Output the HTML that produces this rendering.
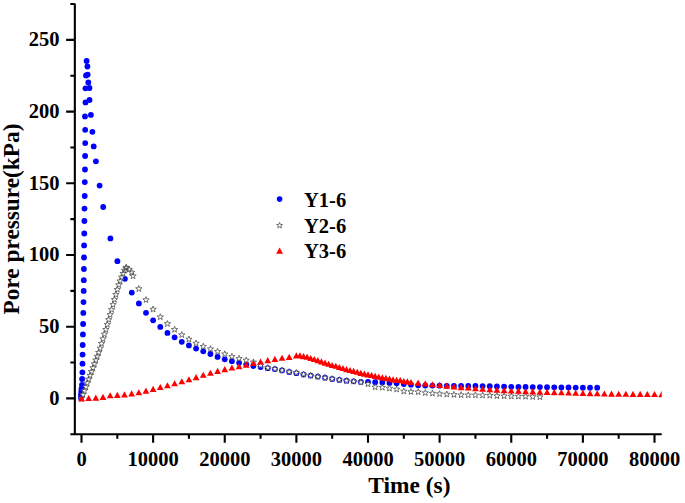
<!DOCTYPE html>
<html><head><meta charset="utf-8"><title>Pore pressure chart</title>
<style>html,body{margin:0;padding:0;background:#fff;}body{width:685px;height:503px;overflow:hidden;font-family:"Liberation Serif",serif;}svg{display:block;}</style>
</head><body>
<svg width="685" height="503" viewBox="0 0 685 503"><clipPath id="c"><rect x="74.34" y="0" width="587.36" height="434.25"/></clipPath>
<g clip-path="url(#c)">
<g fill="#0000ff"><circle cx="80.90" cy="397.70" r="2.9"/><circle cx="81.00" cy="394.60" r="2.9"/><circle cx="81.30" cy="391.60" r="2.9"/><circle cx="81.50" cy="388.90" r="2.9"/><circle cx="82.00" cy="385.00" r="2.9"/><circle cx="82.10" cy="379.00" r="2.9"/><circle cx="82.40" cy="372.30" r="2.9"/><circle cx="82.50" cy="363.70" r="2.9"/><circle cx="82.60" cy="354.60" r="2.9"/><circle cx="82.70" cy="345.00" r="2.9"/><circle cx="82.90" cy="334.40" r="2.9"/><circle cx="83.10" cy="324.00" r="2.9"/><circle cx="83.30" cy="312.90" r="2.9"/><circle cx="83.50" cy="302.10" r="2.9"/><circle cx="83.70" cy="290.90" r="2.9"/><circle cx="83.80" cy="280.20" r="2.9"/><circle cx="83.90" cy="269.00" r="2.9"/><circle cx="84.00" cy="257.50" r="2.9"/><circle cx="84.10" cy="245.40" r="2.9"/><circle cx="84.30" cy="233.50" r="2.9"/><circle cx="84.40" cy="221.00" r="2.9"/><circle cx="84.50" cy="208.60" r="2.9"/><circle cx="84.70" cy="196.00" r="2.9"/><circle cx="84.80" cy="182.10" r="2.9"/><circle cx="85.00" cy="169.50" r="2.9"/><circle cx="85.10" cy="156.00" r="2.9"/><circle cx="85.20" cy="143.10" r="2.9"/><circle cx="85.20" cy="129.80" r="2.9"/><circle cx="85.00" cy="116.40" r="2.9"/><circle cx="85.50" cy="102.40" r="2.9"/><circle cx="85.50" cy="88.30" r="2.9"/><circle cx="86.00" cy="75.50" r="2.9"/><circle cx="86.60" cy="61.00" r="2.9"/><circle cx="87.40" cy="66.50" r="2.9"/><circle cx="87.70" cy="74.60" r="2.9"/><circle cx="88.30" cy="82.40" r="2.9"/><circle cx="89.50" cy="88.00" r="2.9"/><circle cx="89.50" cy="100.00" r="2.9"/><circle cx="90.90" cy="114.90" r="2.9"/><circle cx="92.40" cy="131.80" r="2.9"/><circle cx="93.70" cy="146.40" r="2.9"/><circle cx="95.90" cy="161.30" r="2.9"/><circle cx="99.60" cy="185.60" r="2.9"/><circle cx="103.20" cy="207.00" r="2.9"/><circle cx="110.40" cy="238.40" r="2.9"/><circle cx="117.40" cy="261.20" r="2.9"/><circle cx="124.90" cy="278.80" r="2.9"/><circle cx="131.80" cy="292.60" r="2.9"/><circle cx="138.90" cy="303.40" r="2.9"/><circle cx="146.00" cy="312.80" r="2.9"/><circle cx="153.12" cy="320.30" r="2.9"/><circle cx="160.29" cy="326.90" r="2.9"/><circle cx="167.45" cy="332.90" r="2.9"/><circle cx="174.61" cy="337.30" r="2.9"/><circle cx="181.77" cy="341.80" r="2.9"/><circle cx="188.94" cy="345.40" r="2.9"/><circle cx="196.10" cy="348.60" r="2.9"/><circle cx="203.26" cy="351.30" r="2.9"/><circle cx="210.42" cy="354.00" r="2.9"/><circle cx="217.59" cy="356.90" r="2.9"/><circle cx="224.75" cy="359.30" r="2.9"/><circle cx="231.91" cy="361.20" r="2.9"/><circle cx="239.07" cy="362.80" r="2.9"/><circle cx="246.24" cy="364.30" r="2.9"/><circle cx="253.40" cy="366.00" r="2.9"/><circle cx="260.56" cy="367.10" r="2.9"/><circle cx="267.73" cy="368.20" r="2.9"/><circle cx="274.89" cy="369.10" r="2.9"/><circle cx="282.05" cy="370.40" r="2.9"/><circle cx="289.21" cy="372.00" r="2.9"/><circle cx="296.38" cy="373.20" r="2.9"/><circle cx="303.54" cy="374.60" r="2.9"/><circle cx="310.70" cy="375.60" r="2.9"/><circle cx="317.86" cy="376.60" r="2.9"/><circle cx="325.02" cy="377.70" r="2.9"/><circle cx="332.19" cy="378.90" r="2.9"/><circle cx="339.35" cy="379.90" r="2.9"/><circle cx="346.51" cy="380.70" r="2.9"/><circle cx="353.68" cy="381.30" r="2.9"/><circle cx="360.84" cy="381.80" r="2.9"/><circle cx="368.00" cy="382.00" r="2.9"/><circle cx="375.16" cy="382.20" r="2.9"/><circle cx="382.32" cy="382.50" r="2.9"/><circle cx="389.49" cy="383.00" r="2.9"/><circle cx="396.65" cy="383.20" r="2.9"/><circle cx="403.81" cy="384.10" r="2.9"/><circle cx="410.97" cy="384.70" r="2.9"/><circle cx="418.14" cy="385.30" r="2.9"/><circle cx="425.30" cy="385.50" r="2.9"/><circle cx="432.46" cy="385.60" r="2.9"/><circle cx="439.62" cy="385.70" r="2.9"/><circle cx="446.79" cy="385.80" r="2.9"/><circle cx="453.95" cy="385.90" r="2.9"/><circle cx="461.11" cy="385.90" r="2.9"/><circle cx="468.27" cy="385.90" r="2.9"/><circle cx="475.44" cy="386.00" r="2.9"/><circle cx="482.60" cy="386.10" r="2.9"/><circle cx="489.76" cy="386.20" r="2.9"/><circle cx="496.92" cy="386.40" r="2.9"/><circle cx="504.09" cy="386.60" r="2.9"/><circle cx="511.25" cy="386.80" r="2.9"/><circle cx="518.41" cy="386.90" r="2.9"/><circle cx="525.58" cy="387.00" r="2.9"/><circle cx="532.74" cy="387.10" r="2.9"/><circle cx="539.90" cy="387.10" r="2.9"/><circle cx="547.06" cy="387.20" r="2.9"/><circle cx="554.22" cy="387.30" r="2.9"/><circle cx="561.39" cy="387.40" r="2.9"/><circle cx="568.55" cy="387.50" r="2.9"/><circle cx="575.71" cy="387.60" r="2.9"/><circle cx="582.88" cy="387.70" r="2.9"/><circle cx="590.04" cy="387.70" r="2.9"/><circle cx="597.20" cy="387.70" r="2.9"/></g>
<path fill="#fff" stroke="#505050" stroke-width="0.8" d="M81.50,395.10 L82.29,397.31 L84.64,397.38 L82.78,398.82 L83.44,401.07 L81.50,399.75 L79.56,401.07 L80.22,398.82 L78.36,397.38 L80.71,397.31ZM82.93,391.28 L83.73,393.49 L86.07,393.56 L84.22,395.00 L84.87,397.25 L82.93,395.93 L80.99,397.25 L81.65,395.00 L79.79,393.56 L82.14,393.49ZM84.36,387.46 L85.16,389.67 L87.50,389.74 L85.65,391.18 L86.30,393.43 L84.36,392.11 L82.43,393.43 L83.08,391.18 L81.23,389.74 L83.57,389.67ZM85.80,383.64 L86.59,385.85 L88.94,385.92 L87.08,387.36 L87.74,389.61 L85.80,388.29 L83.86,389.61 L84.51,387.36 L82.66,385.92 L85.00,385.85ZM87.23,379.82 L88.02,382.03 L90.37,382.10 L88.51,383.54 L89.17,385.79 L87.23,384.47 L85.29,385.79 L85.95,383.54 L84.09,382.10 L86.44,382.03ZM88.66,376.00 L89.46,378.21 L91.80,378.28 L89.95,379.72 L90.60,381.97 L88.66,380.65 L86.72,381.97 L87.38,379.72 L85.52,378.28 L87.87,378.21ZM90.09,372.18 L90.89,374.39 L93.23,374.46 L91.38,375.90 L92.03,378.15 L90.09,376.83 L88.16,378.15 L88.81,375.90 L86.96,374.46 L89.30,374.39ZM91.53,368.36 L92.32,370.57 L94.67,370.64 L92.81,372.08 L93.47,374.33 L91.53,373.01 L89.59,374.33 L90.24,372.08 L88.39,370.64 L90.73,370.57ZM92.96,364.54 L93.75,366.75 L96.10,366.82 L94.24,368.26 L94.90,370.51 L92.96,369.19 L91.02,370.51 L91.68,368.26 L89.82,366.82 L92.17,366.75ZM94.39,360.72 L95.19,362.93 L97.53,363.00 L95.68,364.44 L96.33,366.69 L94.39,365.37 L92.45,366.69 L93.11,364.44 L91.25,363.00 L93.60,362.93ZM95.83,356.90 L96.62,359.11 L98.96,359.18 L97.11,360.62 L97.76,362.87 L95.83,361.55 L93.89,362.87 L94.54,360.62 L92.69,359.18 L95.03,359.11ZM97.26,353.08 L98.05,355.29 L100.40,355.36 L98.54,356.80 L99.20,359.05 L97.26,357.73 L95.32,359.05 L95.97,356.80 L94.12,355.36 L96.46,355.29ZM98.69,349.26 L99.48,351.47 L101.83,351.54 L99.97,352.98 L100.63,355.23 L98.69,353.91 L96.75,355.23 L97.41,352.98 L95.55,351.54 L97.90,351.47ZM100.12,345.01 L100.92,347.21 L103.26,347.29 L101.41,348.72 L102.06,350.98 L100.12,349.66 L98.18,350.98 L98.84,348.72 L96.98,347.29 L99.33,347.21ZM101.56,340.32 L102.35,342.53 L104.69,342.60 L102.84,344.04 L103.49,346.29 L101.56,344.97 L99.62,346.29 L100.27,344.04 L98.42,342.60 L100.76,342.53ZM102.99,335.64 L103.78,337.84 L106.13,337.92 L104.27,339.35 L104.93,341.61 L102.99,340.29 L101.05,341.61 L101.70,339.35 L99.85,337.92 L102.19,337.84ZM104.42,330.95 L105.21,333.16 L107.56,333.23 L105.70,334.67 L106.36,336.92 L104.42,335.60 L102.48,336.92 L103.14,334.67 L101.28,333.23 L103.63,333.16ZM105.85,326.27 L106.65,328.48 L108.99,328.55 L107.14,329.99 L107.79,332.24 L105.85,330.92 L103.91,332.24 L104.57,329.99 L102.71,328.55 L105.06,328.48ZM107.28,321.34 L108.08,323.55 L110.42,323.62 L108.57,325.06 L109.22,327.31 L107.28,325.99 L105.35,327.31 L106.00,325.06 L104.15,323.62 L106.49,323.55ZM108.72,316.42 L109.51,318.63 L111.86,318.70 L110.00,320.14 L110.66,322.39 L108.72,321.07 L106.78,322.39 L107.43,320.14 L105.58,318.70 L107.92,318.63ZM110.15,311.50 L110.94,313.71 L113.29,313.78 L111.43,315.21 L112.09,317.47 L110.15,316.15 L108.21,317.47 L108.87,315.21 L107.01,313.78 L109.36,313.71ZM111.58,306.44 L112.38,308.65 L114.72,308.72 L112.87,310.16 L113.52,312.41 L111.58,311.09 L109.64,312.41 L110.30,310.16 L108.44,308.72 L110.79,308.65ZM113.02,301.38 L113.81,303.59 L116.15,303.66 L114.30,305.10 L114.95,307.35 L113.02,306.03 L111.08,307.35 L111.73,305.10 L109.88,303.66 L112.22,303.59ZM114.45,296.33 L115.24,298.54 L117.59,298.61 L115.73,300.05 L116.39,302.30 L114.45,300.98 L112.51,302.30 L113.16,300.05 L111.31,298.61 L113.65,298.54ZM115.88,291.31 L116.67,293.52 L119.02,293.59 L117.16,295.03 L117.82,297.28 L115.88,295.96 L113.94,297.28 L114.60,295.03 L112.74,293.59 L115.09,293.52ZM117.31,286.30 L118.11,288.50 L120.45,288.58 L118.60,290.01 L119.25,292.27 L117.31,290.95 L115.37,292.27 L116.03,290.01 L114.17,288.58 L116.52,288.50ZM118.75,281.57 L119.54,283.78 L121.88,283.86 L120.03,285.29 L120.68,287.54 L118.75,286.23 L116.81,287.54 L117.46,285.29 L115.61,283.86 L117.95,283.78ZM120.18,277.75 L120.97,279.96 L123.32,280.03 L121.46,281.47 L122.12,283.72 L120.18,282.40 L118.24,283.72 L118.89,281.47 L117.04,280.03 L119.38,279.96ZM121.61,273.93 L122.40,276.13 L124.75,276.21 L122.89,277.64 L123.55,279.90 L121.61,278.58 L119.67,279.90 L120.33,277.64 L118.47,276.21 L120.82,276.13ZM123.04,270.26 L123.84,272.46 L126.18,272.54 L124.33,273.97 L124.98,276.23 L123.04,274.91 L121.10,276.23 L121.76,273.97 L119.90,272.54 L122.25,272.46ZM124.47,267.04 L125.27,269.25 L127.61,269.32 L125.76,270.76 L126.41,273.01 L124.47,271.69 L122.54,273.01 L123.19,270.76 L121.34,269.32 L123.68,269.25ZM125.91,264.75 L126.70,266.96 L129.05,267.03 L127.19,268.47 L127.85,270.72 L125.91,269.40 L123.97,270.72 L124.62,268.47 L122.77,267.03 L125.11,266.96ZM126.41,264.18 L127.20,266.38 L129.55,266.46 L127.69,267.89 L128.35,270.15 L126.41,268.83 L124.47,270.15 L125.12,267.89 L123.27,266.46 L125.62,266.38ZM129.13,266.10 L129.92,268.31 L132.27,268.38 L130.41,269.82 L131.07,272.07 L129.13,270.75 L127.19,272.07 L127.85,269.82 L125.99,268.38 L128.34,268.31ZM131.64,269.10 L132.43,271.31 L134.78,271.38 L132.92,272.82 L133.58,275.07 L131.64,273.75 L129.70,275.07 L130.35,272.82 L128.50,271.38 L130.84,271.31ZM133.07,272.70 L133.86,274.91 L136.21,274.98 L134.35,276.42 L135.01,278.67 L133.07,277.35 L131.13,278.67 L131.79,276.42 L129.93,274.98 L132.28,274.91ZM138.80,285.50 L139.59,287.71 L141.94,287.78 L140.08,289.22 L140.74,291.47 L138.80,290.15 L136.86,291.47 L137.52,289.22 L135.66,287.78 L138.01,287.71ZM145.96,296.60 L146.76,298.81 L149.10,298.88 L147.25,300.32 L147.90,302.57 L145.96,301.25 L144.02,302.57 L144.68,300.32 L142.82,298.88 L145.17,298.81ZM153.12,306.00 L153.92,308.21 L156.26,308.28 L154.41,309.72 L155.06,311.97 L153.12,310.65 L151.19,311.97 L151.84,309.72 L149.99,308.28 L152.33,308.21ZM160.29,313.70 L161.08,315.91 L163.43,315.98 L161.57,317.42 L162.23,319.67 L160.29,318.35 L158.35,319.67 L159.00,317.42 L157.15,315.98 L159.49,315.91ZM167.45,320.50 L168.24,322.71 L170.59,322.78 L168.73,324.22 L169.39,326.47 L167.45,325.15 L165.51,326.47 L166.17,324.22 L164.31,322.78 L166.66,322.71ZM174.61,326.30 L175.41,328.51 L177.75,328.58 L175.90,330.02 L176.55,332.27 L174.61,330.95 L172.67,332.27 L173.33,330.02 L171.47,328.58 L173.82,328.51ZM181.77,331.60 L182.57,333.81 L184.91,333.88 L183.06,335.32 L183.71,337.57 L181.77,336.25 L179.84,337.57 L180.49,335.32 L178.64,333.88 L180.98,333.81ZM188.94,336.00 L189.73,338.21 L192.08,338.28 L190.22,339.72 L190.88,341.97 L188.94,340.65 L187.00,341.97 L187.65,339.72 L185.80,338.28 L188.14,338.21ZM196.10,340.00 L196.89,342.21 L199.24,342.28 L197.38,343.72 L198.04,345.97 L196.10,344.65 L194.16,345.97 L194.82,343.72 L192.96,342.28 L195.31,342.21ZM203.26,343.20 L204.06,345.41 L206.40,345.48 L204.55,346.92 L205.20,349.17 L203.26,347.85 L201.32,349.17 L201.98,346.92 L200.12,345.48 L202.47,345.41ZM210.42,345.70 L211.22,347.91 L213.56,347.98 L211.71,349.42 L212.36,351.67 L210.42,350.35 L208.49,351.67 L209.14,349.42 L207.29,347.98 L209.63,347.91ZM217.59,348.20 L218.38,350.41 L220.73,350.48 L218.87,351.92 L219.53,354.17 L217.59,352.85 L215.65,354.17 L216.30,351.92 L214.45,350.48 L216.79,350.41ZM224.75,350.80 L225.54,353.01 L227.89,353.08 L226.03,354.52 L226.69,356.77 L224.75,355.45 L222.81,356.77 L223.47,354.52 L221.61,353.08 L223.96,353.01ZM231.91,353.30 L232.71,355.51 L235.05,355.58 L233.20,357.02 L233.85,359.27 L231.91,357.95 L229.97,359.27 L230.63,357.02 L228.77,355.58 L231.12,355.51ZM239.07,355.30 L239.87,357.51 L242.21,357.58 L240.36,359.02 L241.01,361.27 L239.07,359.95 L237.14,361.27 L237.79,359.02 L235.94,357.58 L238.28,357.51ZM246.24,357.00 L247.03,359.21 L249.38,359.28 L247.52,360.72 L248.18,362.97 L246.24,361.65 L244.30,362.97 L244.95,360.72 L243.10,359.28 L245.44,359.21ZM253.40,358.90 L254.19,361.11 L256.54,361.18 L254.68,362.62 L255.34,364.87 L253.40,363.55 L251.46,364.87 L252.12,362.62 L250.26,361.18 L252.61,361.11ZM260.56,362.20 L261.36,364.41 L263.70,364.48 L261.85,365.92 L262.50,368.17 L260.56,366.85 L258.62,368.17 L259.28,365.92 L257.42,364.48 L259.77,364.41ZM267.73,364.60 L268.52,366.81 L270.86,366.88 L269.01,368.32 L269.66,370.57 L267.73,369.25 L265.79,370.57 L266.44,368.32 L264.59,366.88 L266.93,366.81ZM274.89,365.70 L275.68,367.91 L278.03,367.98 L276.17,369.42 L276.83,371.67 L274.89,370.35 L272.95,371.67 L273.60,369.42 L271.75,367.98 L274.09,367.91ZM282.05,367.00 L282.84,369.21 L285.19,369.28 L283.33,370.72 L283.99,372.97 L282.05,371.65 L280.11,372.97 L280.77,370.72 L278.91,369.28 L281.26,369.21ZM289.21,368.60 L290.01,370.81 L292.35,370.88 L290.50,372.32 L291.15,374.57 L289.21,373.25 L287.27,374.57 L287.93,372.32 L286.07,370.88 L288.42,370.81ZM296.38,369.50 L297.17,371.71 L299.51,371.78 L297.66,373.22 L298.31,375.47 L296.38,374.15 L294.44,375.47 L295.09,373.22 L293.24,371.78 L295.58,371.71ZM303.54,371.00 L304.33,373.21 L306.68,373.28 L304.82,374.72 L305.48,376.97 L303.54,375.65 L301.60,376.97 L302.25,374.72 L300.40,373.28 L302.74,373.21ZM310.70,372.30 L311.49,374.51 L313.84,374.58 L311.98,376.02 L312.64,378.27 L310.70,376.95 L308.76,378.27 L309.42,376.02 L307.56,374.58 L309.91,374.51ZM317.86,373.40 L318.66,375.61 L321.00,375.68 L319.15,377.12 L319.80,379.37 L317.86,378.05 L315.92,379.37 L316.58,377.12 L314.72,375.68 L317.07,375.61ZM325.02,374.50 L325.82,376.71 L328.16,376.78 L326.31,378.22 L326.96,380.47 L325.02,379.15 L323.09,380.47 L323.74,378.22 L321.89,376.78 L324.23,376.71ZM332.19,375.60 L332.98,377.81 L335.33,377.88 L333.47,379.32 L334.13,381.57 L332.19,380.25 L330.25,381.57 L330.90,379.32 L329.05,377.88 L331.39,377.81ZM339.35,376.60 L340.14,378.81 L342.49,378.88 L340.63,380.32 L341.29,382.57 L339.35,381.25 L337.41,382.57 L338.07,380.32 L336.21,378.88 L338.56,378.81ZM346.51,377.60 L347.31,379.81 L349.65,379.88 L347.80,381.32 L348.45,383.57 L346.51,382.25 L344.57,383.57 L345.23,381.32 L343.37,379.88 L345.72,379.81ZM353.68,378.10 L354.47,380.31 L356.81,380.38 L354.96,381.82 L355.61,384.07 L353.68,382.75 L351.74,384.07 L352.39,381.82 L350.54,380.38 L352.88,380.31ZM360.84,379.00 L361.63,381.21 L363.98,381.28 L362.12,382.72 L362.78,384.97 L360.84,383.65 L358.90,384.97 L359.55,382.72 L357.70,381.28 L360.04,381.21ZM368.00,380.70 L368.79,382.91 L371.14,382.98 L369.28,384.42 L369.94,386.67 L368.00,385.35 L366.06,386.67 L366.72,384.42 L364.86,382.98 L367.21,382.91ZM375.16,383.80 L375.96,386.01 L378.30,386.08 L376.45,387.52 L377.10,389.77 L375.16,388.45 L373.22,389.77 L373.88,387.52 L372.02,386.08 L374.37,386.01ZM382.32,384.20 L383.12,386.41 L385.46,386.48 L383.61,387.92 L384.26,390.17 L382.32,388.85 L380.39,390.17 L381.04,387.92 L379.19,386.48 L381.53,386.41ZM389.49,385.10 L390.28,387.31 L392.63,387.38 L390.77,388.82 L391.43,391.07 L389.49,389.75 L387.55,391.07 L388.20,388.82 L386.35,387.38 L388.69,387.31ZM396.65,386.00 L397.44,388.21 L399.79,388.28 L397.93,389.72 L398.59,391.97 L396.65,390.65 L394.71,391.97 L395.37,389.72 L393.51,388.28 L395.86,388.21ZM403.81,388.00 L404.61,390.21 L406.95,390.28 L405.10,391.72 L405.75,393.97 L403.81,392.65 L401.87,393.97 L402.53,391.72 L400.67,390.28 L403.02,390.21ZM410.97,388.50 L411.77,390.71 L414.11,390.78 L412.26,392.22 L412.91,394.47 L410.97,393.15 L409.04,394.47 L409.69,392.22 L407.84,390.78 L410.18,390.71ZM418.14,388.70 L418.93,390.91 L421.28,390.98 L419.42,392.42 L420.08,394.67 L418.14,393.35 L416.20,394.67 L416.85,392.42 L415.00,390.98 L417.34,390.91ZM425.30,389.60 L426.09,391.81 L428.44,391.88 L426.58,393.32 L427.24,395.57 L425.30,394.25 L423.36,395.57 L424.02,393.32 L422.16,391.88 L424.51,391.81ZM432.46,390.10 L433.26,392.31 L435.60,392.38 L433.75,393.82 L434.40,396.07 L432.46,394.75 L430.52,396.07 L431.18,393.82 L429.32,392.38 L431.67,392.31ZM439.62,390.60 L440.42,392.81 L442.76,392.88 L440.91,394.32 L441.56,396.57 L439.62,395.25 L437.69,396.57 L438.34,394.32 L436.49,392.88 L438.83,392.81ZM446.79,391.00 L447.58,393.21 L449.93,393.28 L448.07,394.72 L448.73,396.97 L446.79,395.65 L444.85,396.97 L445.50,394.72 L443.65,393.28 L445.99,393.21ZM453.95,391.40 L454.74,393.61 L457.09,393.68 L455.23,395.12 L455.89,397.37 L453.95,396.05 L452.01,397.37 L452.67,395.12 L450.81,393.68 L453.16,393.61ZM461.11,391.70 L461.91,393.91 L464.25,393.98 L462.40,395.42 L463.05,397.67 L461.11,396.35 L459.17,397.67 L459.83,395.42 L457.97,393.98 L460.32,393.91ZM468.27,391.80 L469.07,394.01 L471.41,394.08 L469.56,395.52 L470.21,397.77 L468.27,396.45 L466.34,397.77 L466.99,395.52 L465.14,394.08 L467.48,394.01ZM475.44,391.90 L476.23,394.11 L478.58,394.18 L476.72,395.62 L477.38,397.87 L475.44,396.55 L473.50,397.87 L474.15,395.62 L472.30,394.18 L474.64,394.11ZM482.60,392.00 L483.39,394.21 L485.74,394.28 L483.88,395.72 L484.54,397.97 L482.60,396.65 L480.66,397.97 L481.32,395.72 L479.46,394.28 L481.81,394.21ZM489.76,392.20 L490.56,394.41 L492.90,394.48 L491.05,395.92 L491.70,398.17 L489.76,396.85 L487.82,398.17 L488.48,395.92 L486.62,394.48 L488.97,394.41ZM496.92,392.60 L497.72,394.81 L500.06,394.88 L498.21,396.32 L498.86,398.57 L496.92,397.25 L494.99,398.57 L495.64,396.32 L493.79,394.88 L496.13,394.81ZM504.09,392.80 L504.88,395.01 L507.23,395.08 L505.37,396.52 L506.03,398.77 L504.09,397.45 L502.15,398.77 L502.80,396.52 L500.95,395.08 L503.29,395.01ZM511.25,393.00 L512.04,395.21 L514.39,395.28 L512.53,396.72 L513.19,398.97 L511.25,397.65 L509.31,398.97 L509.97,396.72 L508.11,395.28 L510.46,395.21ZM518.41,393.10 L519.21,395.31 L521.55,395.38 L519.70,396.82 L520.35,399.07 L518.41,397.75 L516.47,399.07 L517.13,396.82 L515.27,395.38 L517.62,395.31ZM525.58,393.20 L526.37,395.41 L528.71,395.48 L526.86,396.92 L527.51,399.17 L525.58,397.85 L523.64,399.17 L524.29,396.92 L522.44,395.48 L524.78,395.41ZM532.74,393.50 L533.53,395.71 L535.88,395.78 L534.02,397.22 L534.68,399.47 L532.74,398.15 L530.80,399.47 L531.45,397.22 L529.60,395.78 L531.94,395.71ZM539.90,393.70 L540.69,395.91 L543.04,395.98 L541.18,397.42 L541.84,399.67 L539.90,398.35 L537.96,399.67 L538.62,397.42 L536.76,395.98 L539.11,395.91Z"/>
<path fill="#ff0000" d="M81.50,395.35 L84.90,401.45 L78.10,401.45ZM88.66,394.95 L92.06,401.05 L85.26,401.05ZM95.83,394.55 L99.23,400.65 L92.42,400.65ZM102.99,393.85 L106.39,399.95 L99.59,399.95ZM110.15,392.25 L113.55,398.35 L106.75,398.35ZM117.31,391.85 L120.71,397.95 L113.91,397.95ZM124.47,391.35 L127.88,397.45 L121.07,397.45ZM131.64,390.35 L135.04,396.45 L128.24,396.45ZM138.80,389.15 L142.20,395.25 L135.40,395.25ZM145.96,387.55 L149.36,393.65 L142.56,393.65ZM153.12,385.85 L156.53,391.95 L149.72,391.95ZM160.29,383.95 L163.69,390.05 L156.89,390.05ZM167.45,382.15 L170.85,388.25 L164.05,388.25ZM174.61,380.25 L178.01,386.35 L171.21,386.35ZM181.77,378.15 L185.17,384.25 L178.37,384.25ZM188.94,376.15 L192.34,382.25 L185.54,382.25ZM196.10,374.05 L199.50,380.15 L192.70,380.15ZM203.26,371.75 L206.66,377.85 L199.86,377.85ZM210.42,369.75 L213.82,375.85 L207.02,375.85ZM217.59,367.85 L220.99,373.95 L214.19,373.95ZM224.75,366.05 L228.15,372.15 L221.35,372.15ZM231.91,364.45 L235.31,370.55 L228.51,370.55ZM239.07,363.05 L242.47,369.15 L235.67,369.15ZM246.24,361.55 L249.64,367.65 L242.84,367.65ZM253.40,359.95 L256.80,366.05 L250.00,366.05ZM260.56,358.45 L263.96,364.55 L257.16,364.55ZM267.73,357.05 L271.12,363.15 L264.33,363.15ZM274.89,355.85 L278.29,361.95 L271.49,361.95ZM282.05,354.75 L285.45,360.85 L278.65,360.85ZM289.21,353.85 L292.61,359.95 L285.81,359.95ZM296.38,352.30 L299.77,358.40 L292.98,358.40ZM299.96,352.30 L303.36,358.40 L296.56,358.40ZM303.54,353.10 L306.94,359.20 L300.14,359.20ZM307.12,353.70 L310.52,359.80 L303.72,359.80ZM310.70,354.90 L314.10,361.00 L307.30,361.00ZM314.28,356.00 L317.68,362.10 L310.88,362.10ZM317.86,357.10 L321.26,363.20 L314.46,363.20ZM321.44,358.30 L324.84,364.40 L318.04,364.40ZM325.02,359.60 L328.42,365.70 L321.62,365.70ZM328.61,360.70 L332.01,366.80 L325.21,366.80ZM332.19,361.90 L335.59,368.00 L328.79,368.00ZM335.77,362.70 L339.17,368.80 L332.37,368.80ZM339.35,364.00 L342.75,370.10 L335.95,370.10ZM342.93,365.00 L346.33,371.10 L339.53,371.10ZM346.51,366.10 L349.91,372.20 L343.11,372.20ZM350.09,367.00 L353.49,373.10 L346.69,373.10ZM353.68,367.80 L357.07,373.90 L350.28,373.90ZM357.26,368.70 L360.66,374.80 L353.86,374.80ZM360.84,369.80 L364.24,375.90 L357.44,375.90ZM364.42,370.60 L367.82,376.70 L361.02,376.70ZM368.00,371.30 L371.40,377.40 L364.60,377.40ZM371.58,371.90 L374.98,378.00 L368.18,378.00ZM375.16,372.80 L378.56,378.90 L371.76,378.90ZM378.74,373.60 L382.14,379.70 L375.34,379.70ZM382.32,374.30 L385.72,380.40 L378.93,380.40ZM385.91,374.80 L389.31,380.90 L382.51,380.90ZM389.49,375.50 L392.89,381.60 L386.09,381.60ZM393.07,376.30 L396.47,382.40 L389.67,382.40ZM396.65,376.80 L400.05,382.90 L393.25,382.90ZM400.23,377.00 L403.63,383.10 L396.83,383.10ZM403.81,377.90 L407.21,384.00 L400.41,384.00ZM407.39,378.30 L410.79,384.40 L403.99,384.40ZM410.97,378.90 L414.37,385.00 L407.57,385.00ZM418.14,379.55 L421.54,385.65 L414.74,385.65ZM425.30,380.35 L428.70,386.45 L421.90,386.45ZM432.46,381.15 L435.86,387.25 L429.06,387.25ZM439.62,381.85 L443.02,387.95 L436.23,387.95ZM446.79,382.55 L450.19,388.65 L443.39,388.65ZM453.95,383.35 L457.35,389.45 L450.55,389.45ZM461.11,384.05 L464.51,390.15 L457.71,390.15ZM468.27,384.45 L471.67,390.55 L464.88,390.55ZM475.44,385.15 L478.84,391.25 L472.04,391.25ZM482.60,385.65 L486.00,391.75 L479.20,391.75ZM489.76,386.15 L493.16,392.25 L486.36,392.25ZM496.92,386.65 L500.32,392.75 L493.52,392.75ZM504.09,387.05 L507.49,393.15 L500.69,393.15ZM511.25,387.45 L514.65,393.55 L507.85,393.55ZM518.41,387.75 L521.81,393.85 L515.01,393.85ZM525.58,388.05 L528.98,394.15 L522.18,394.15ZM532.74,388.35 L536.14,394.45 L529.34,394.45ZM539.90,388.65 L543.30,394.75 L536.50,394.75ZM547.06,388.85 L550.46,394.95 L543.66,394.95ZM554.22,389.05 L557.62,395.15 L550.82,395.15ZM561.39,389.25 L564.79,395.35 L557.99,395.35ZM568.55,389.45 L571.95,395.55 L565.15,395.55ZM575.71,389.65 L579.11,395.75 L572.31,395.75ZM582.88,389.85 L586.27,395.95 L579.48,395.95ZM590.04,390.05 L593.44,396.15 L586.64,396.15ZM597.20,390.25 L600.60,396.35 L593.80,396.35ZM604.36,390.45 L607.76,396.55 L600.96,396.55ZM611.52,390.55 L614.92,396.65 L608.12,396.65ZM618.69,390.65 L622.09,396.75 L615.29,396.75ZM625.85,390.75 L629.25,396.85 L622.45,396.85ZM633.01,390.85 L636.41,396.95 L629.61,396.95ZM640.17,390.85 L643.57,396.95 L636.77,396.95ZM647.34,390.95 L650.74,397.05 L643.94,397.05ZM654.50,390.95 L657.90,397.05 L651.10,397.05ZM661.66,391.05 L665.06,397.15 L658.26,397.15Z"/>
</g>
<path fill="none" stroke="#000" stroke-width="2.1" d="M74.84,3.55 V434.25 H661.70 M70.34,434.25 H74.84 M66.14,398.40 H74.84 M70.34,362.55 H74.84 M66.14,326.70 H74.84 M70.34,290.85 H74.84 M66.14,255.00 H74.84 M70.34,219.15 H74.84 M66.14,183.30 H74.84 M70.34,147.45 H74.84 M66.14,111.60 H74.84 M70.34,75.75 H74.84 M66.14,39.90 H74.84 M70.34,4.05 H74.84 M81.50,434.25 V442.75 M117.31,434.25 V438.75 M153.12,434.25 V442.75 M188.94,434.25 V438.75 M224.75,434.25 V442.75 M260.56,434.25 V438.75 M296.38,434.25 V442.75 M332.19,434.25 V438.75 M368.00,434.25 V442.75 M403.81,434.25 V438.75 M439.62,434.25 V442.75 M475.44,434.25 V438.75 M511.25,434.25 V442.75 M547.06,434.25 V438.75 M582.88,434.25 V442.75 M618.69,434.25 V438.75 M654.50,434.25 V442.75"/>
<g font-family="Liberation Serif" font-weight="bold" font-size="20.5" fill="#000"><text x="59.4" y="404.80" text-anchor="end">0</text><text x="59.4" y="333.10" text-anchor="end">50</text><text x="59.4" y="261.40" text-anchor="end">100</text><text x="59.4" y="189.70" text-anchor="end">150</text><text x="59.4" y="118.00" text-anchor="end">200</text><text x="59.4" y="46.30" text-anchor="end">250</text><text x="81.50" y="465.8" text-anchor="middle">0</text><text x="153.12" y="465.8" text-anchor="middle">10000</text><text x="224.75" y="465.8" text-anchor="middle">20000</text><text x="296.38" y="465.8" text-anchor="middle">30000</text><text x="368.00" y="465.8" text-anchor="middle">40000</text><text x="439.62" y="465.8" text-anchor="middle">50000</text><text x="511.25" y="465.8" text-anchor="middle">60000</text><text x="582.88" y="465.8" text-anchor="middle">70000</text><text x="654.50" y="465.8" text-anchor="middle">80000</text></g>
<text x="409.4" y="493.0" text-anchor="middle" font-family="Liberation Serif" font-weight="bold" font-size="23.4">Time (s)</text>
<text transform="translate(19.3,219.0) rotate(-90)" x="0" y="0" text-anchor="middle" font-family="Liberation Serif" font-weight="bold" font-size="23.3">Pore pressure(kPa)</text>
<circle cx="279.6" cy="199.1" r="2.8" fill="#0000ff"/><path fill="#fff" stroke="#505050" stroke-width="0.8" d="M279.60,222.40 L280.36,224.45 L282.55,224.54 L280.84,225.90 L281.42,228.01 L279.60,226.80 L277.78,228.01 L278.36,225.90 L276.65,224.54 L278.84,224.45Z"/><path fill="#ff0000" d="M279.60,247.55 L283.00,253.65 L276.20,253.65Z"/><text x="304.0" y="206.60" font-family="Liberation Serif" font-weight="bold" font-size="20.5">Y1-6</text><text x="304.0" y="232.50" font-family="Liberation Serif" font-weight="bold" font-size="20.5">Y2-6</text><text x="304.0" y="258.40" font-family="Liberation Serif" font-weight="bold" font-size="20.5">Y3-6</text></svg>
</body></html>
